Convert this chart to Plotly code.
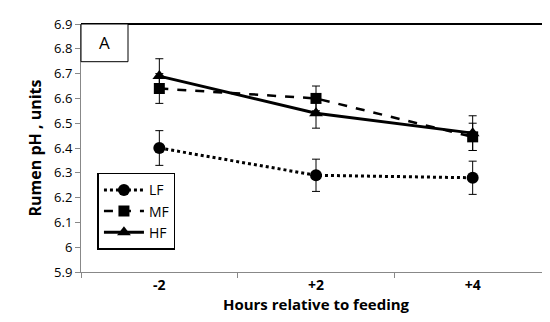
import plotly.graph_objects as go

categories = ["-2", "+2", "+4"]
lf = [6.40, 6.29, 6.28]
lf_err = [0.07, 0.065, 0.067]
mf = [6.64, 6.60, 6.445]
mf_err = [0.06, 0.05, 0.055]
hf = [6.69, 6.54, 6.46]
hf_err = [0.07, 0.06, 0.07]
y_ticks = [5.9, 6.0, 6.1, 6.2, 6.3, 6.4, 6.5, 6.6, 6.7, 6.8, 6.9]
y_tick_text = ["5.9", "6", "6.1", "6.2", "6.3", "6.4", "6.5", "6.6", "6.7", "6.8", "6.9"]

FONT = "Open Sans"

def err(v):
    return dict(type="data", array=v, visible=True, color="black", thickness=1, width=4)

fig = go.Figure()
fig.add_trace(go.Scatter(x=categories, y=lf, name="LF", mode="lines+markers",
                         line=dict(color="black", width=3, dash="dot"),
                         marker=dict(symbol="circle", size=12, color="black"),
                         error_y=err(lf_err)))
fig.add_trace(go.Scatter(x=categories, y=mf, name="MF", mode="lines+markers",
                         line=dict(color="black", width=2.5, dash="dash"),
                         marker=dict(symbol="square", size=11, color="black"),
                         error_y=err(mf_err)))
fig.add_trace(go.Scatter(x=categories, y=hf, name="HF", mode="lines+markers",
                         line=dict(color="black", width=3),
                         marker=dict(symbol="triangle-up", size=12, color="black"),
                         error_y=err(hf_err)))

fig.update_layout(
    width=550, height=322,
    margin=dict(l=73, r=7, t=9, b=58),
    paper_bgcolor="white", plot_bgcolor="white",
    font=dict(family=FONT, color="black", size=13),
    showlegend=True,
    legend=dict(x=0.035, y=0.40, xanchor="left", yanchor="top",
                bordercolor="black", borderwidth=1.5, bgcolor="white",
                font=dict(size=14), tracegroupgap=0, itemwidth=40),
    xaxis=dict(type="category", range=[-0.5, 2.5], showline=True, linecolor="#888888",
               linewidth=1, ticks="outside", tickson="boundaries", ticklen=5,
               tickcolor="#888888", showgrid=False, zeroline=False,
               tickfont=dict(size=14, family=FONT, weight="bold"),
               title=dict(text="<b>Hours relative to feeding</b>", font=dict(size=15), standoff=2)),
    yaxis=dict(range=[5.9, 6.9001], tickvals=y_ticks, ticktext=y_tick_text,
               ticklabeloverflow="allow",
               showline=True, linecolor="#888888", linewidth=1, ticks="outside",
               ticklen=5, tickcolor="#888888", showgrid=False, zeroline=False,
               tickfont=dict(size=13),
               title=dict(text="<b>Rumen pH , units</b>", font=dict(size=16), standoff=8)),
)

# frame around plot area (top and right)
fig.add_shape(type="line", xref="paper", yref="paper", x0=0, x1=1, y0=1, y1=1,
              line=dict(color="black", width=2))
fig.add_shape(type="line", xref="paper", yref="paper", x0=1, x1=1, y0=0, y1=1,
              line=dict(color="black", width=1.5))
# panel label box
fig.add_shape(type="rect", xref="paper", yref="paper", x0=0, x1=0.1, y0=0.848, y1=1,
              line=dict(color="black", width=1), fillcolor="white")
fig.add_annotation(text="A", xref="paper", yref="paper", x=0.05, y=0.924,
                   showarrow=False, font=dict(size=17), xanchor="center", yanchor="middle")

fig.write_html("out.html")
